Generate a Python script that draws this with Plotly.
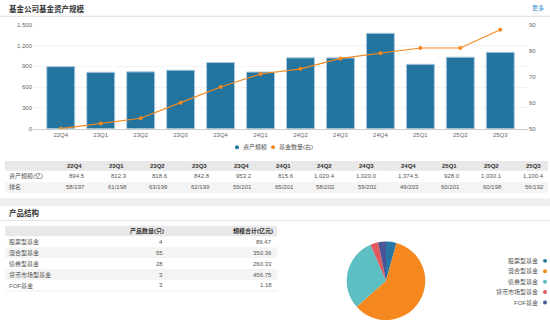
import plotly.graph_objects as go

W, H = 550, 326

# ---- data ----
quarters = ["22Q4", "23Q1", "23Q2", "23Q3", "23Q4", "24Q1",
            "24Q2", "24Q3", "24Q4", "25Q1", "25Q2", "25Q3"]
asset_scale = [894.5, 812.3, 818.6, 842.8, 953.2, 815.6,
               1020.4, 1020.0, 1374.5, 928.0, 1030.1, 1100.4]
rank_text = ["58/197", "61/198", "63/199", "62/199", "59/201", "65/201",
             "58/202", "59/202", "49/203", "60/201", "60/198", "56/192"]
fund_count = [50, 52, 54, 60, 66, 71, 73, 77, 79, 81, 81, 88]

product_types = ["股票型基金", "混合型基金", "债券型基金", "货币市场型基金", "FOF基金"]
product_count = [4, 55, 28, 3, 3]
product_scale = [89.47, 350.36, 260.33, 456.75, 1.18]

left_ticks = [0, 300, 600, 900, 1200, 1500]

# ---- styling ----
FONT = "Liberation Sans, Noto Sans CJK SC, sans-serif"
BAR_COLOR = "#23749f"
LINE_COLOR = "#f5891f"
PIE_COLORS = ["#2677a6", "#f5891f", "#5dbfc1", "#e3585d", "#4b5494"]
TEXT = "#555555"
HEAD_TEXT = "#333333"
HEAD_FILL = "#e8e8e8"
ALT_FILL = "#f4f4f4"


def px(x):
    return x / W


def py(y):
    return 1 - y / H


fig = go.Figure()

# bars: asset scale (left axis)
fig.add_trace(go.Bar(
    x=quarters, y=asset_scale, name="资产规模",
    marker=dict(color=BAR_COLOR, line=dict(color="#a9c9de", width=1)),
    yaxis="y", xaxis="x",
))

# line: number of funds (right axis)
fig.add_trace(go.Scatter(
    x=quarters, y=fund_count, name="基金数量(右)", mode="lines+markers",
    line=dict(color=LINE_COLOR, width=1.2),
    marker=dict(color=LINE_COLOR, size=4),
    yaxis="y2", xaxis="x",
))

# product structure pie (by number of products)
fig.add_trace(go.Pie(
    labels=product_types, values=product_count,
    marker=dict(colors=PIE_COLORS, line=dict(width=0)),
    textinfo="none", sort=False, direction="clockwise",
    domain=dict(x=[px(346), px(426)], y=[py(323), py(243)]),
    showlegend=False,
))

shapes = []
annotations = []


def band(x0, x1, y0, y1, color):
    shapes.append(dict(type="rect", xref="paper", yref="paper",
                       x0=px(x0), x1=px(x1), y0=py(y1), y1=py(y0),
                       fillcolor=color, line=dict(width=0), layer="below"))


def hline(y, color, x0=0, x1=W):
    shapes.append(dict(type="line", xref="paper", yref="paper",
                       x0=px(x0), x1=px(x1), y0=py(y), y1=py(y),
                       line=dict(color=color, width=1)))


def label(text, x, y, anchor="left", size=6, color=TEXT):
    annotations.append(dict(text=text, x=px(x), y=py(y), xref="paper",
                            yref="paper", xanchor=anchor, yanchor="middle",
                            showarrow=False,
                            font=dict(family=FONT, size=size, color=color)))


def dot(cx, cy, color, r=2):
    shapes.append(dict(type="circle", xref="paper", yref="paper",
                       x0=px(cx - r), x1=px(cx + r), y0=py(cy + r), y1=py(cy - r),
                       fillcolor=color, line=dict(width=0)))


# section headers
hline(13.5, "#dddddd")
label("<b>基金公司基金资产规模</b>", 7, 6, size=7.5, color=HEAD_TEXT)
label("更多", 546, 5, anchor="right", color="#3d8fd1")
band(0, W, 199, 207, "#eeeeee")
hline(221.5, "#e2e2e2")
label("<b>产品结构</b>", 7, 214, size=7.5, color=HEAD_TEXT)

# legend for the bar/line chart
for cx, color, text in [(237, BAR_COLOR, "资产规模"), (273, LINE_COLOR, "基金数量(右)")]:
    dot(cx, 147, color)
    label(text, cx + 4, 147)

# quarterly summary table
T_LEFT, T_RIGHT = 5, 548
COL0_RIGHT, COL_STEP = 87, 41.7
band(T_LEFT, T_RIGHT, 161, 171, HEAD_FILL)
band(T_LEFT, T_RIGHT, 182.5, 193.5, ALT_FILL)
row_y = [176.7, 187.7]
label("资产规模(亿)", 7, row_y[0])
label("排名", 7, row_y[1])
for i, (q, v, r) in enumerate(zip(quarters, asset_scale, rank_text)):
    xr = COL0_RIGHT + COL_STEP * i
    label(f"<b>{q}</b>", xr - 3, 165.8, anchor="right", color=HEAD_TEXT)
    label(f"{v:,.1f}", xr, row_y[0], anchor="right")
    label(r, xr, row_y[1], anchor="right")

# product structure table
P_LEFT, P_RIGHT = 5, 277
band(P_LEFT, P_RIGHT, 227, 237.5, HEAD_FILL)
label("<b>产品数量(只)</b>", 166, 232.5, anchor="right", color=HEAD_TEXT)
label("<b>规模合计(亿元)</b>", 274.5, 232.5, anchor="right", color=HEAD_TEXT)
P_ROW0, P_STEP = 243.3, 11.1
for i, (name, cnt, sc) in enumerate(zip(product_types, product_count, product_scale)):
    cy = P_ROW0 + P_STEP * i
    if i % 2 == 1:
        band(P_LEFT, P_RIGHT, cy - 5.5, cy + 5.5, ALT_FILL)
    label(name, 7, cy)
    label(str(cnt), 164.5, cy, anchor="right")
    label(f"{sc:.2f}", 273.5, cy, anchor="right")
hline(P_ROW0 + P_STEP * 4 + 5.5, "#eeeeee", P_LEFT, P_RIGHT)

# legend for the pie
for i, (text, color) in enumerate(zip(product_types, PIE_COLORS)):
    cy = 262.7 + 10.6 * i
    dot(545, cy, color)
    label(text, 540, cy, anchor="right")

fig.update_layout(
    width=W, height=H, autosize=False,
    margin=dict(l=0, r=0, t=0, b=0, pad=0),
    paper_bgcolor="white", plot_bgcolor="white",
    showlegend=False, bargap=0.3,
    font=dict(family=FONT, size=6, color="#666666"),
    xaxis=dict(domain=[px(33), px(528)], type="category", showline=True,
               linecolor="#cccccc", linewidth=1, ticks="", showgrid=False,
               tickfont=dict(size=6, color="#666666"), anchor="y"),
    yaxis=dict(domain=[py(128), py(22)], range=[0, 1500], tickvals=left_ticks,
               tickformat=",d", showgrid=True, gridcolor="#f3f3f3",
               zeroline=False, showline=False, ticks="",
               tickfont=dict(size=6, color="#666666"), anchor="x"),
    yaxis2=dict(overlaying="y", side="right", range=[50, 90], dtick=10,
                showgrid=False, zeroline=False, showline=False, ticks="",
                tickfont=dict(size=6, color="#666666"), anchor="x"),
    shapes=shapes,
    annotations=annotations,
)

fig.write_html("out.html")
